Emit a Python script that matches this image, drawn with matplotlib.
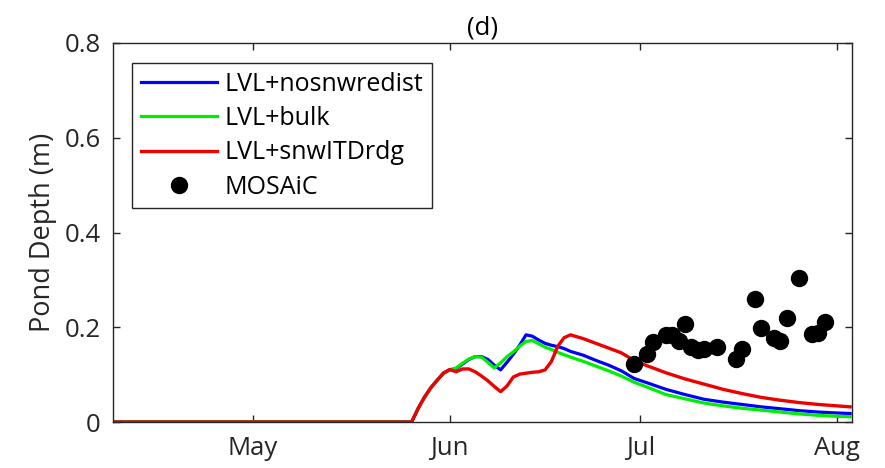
import matplotlib
matplotlib.use("Agg")
import matplotlib.pyplot as plt
from matplotlib.ticker import FuncFormatter

plt.rcParams["font.family"] = ["Open Sans", "DejaVu Sans"]

# day of year (2020) for the model curves
doy = [100, 147, 148, 149, 150, 151, 152, 153, 154, 155, 156, 157, 158, 159,
       160, 161, 162, 163, 164, 165, 166, 167, 168, 169, 170, 171, 172, 174,
       176, 178, 180, 182, 184, 187, 190, 193, 196, 199, 202, 205, 208, 211,
       214, 216]

nosnwredist = [0.0, 0.0, 0.028, 0.052, 0.072, 0.088, 0.103, 0.110, 0.113, 0.122,
               0.132, 0.138, 0.138, 0.132, 0.120, 0.110, 0.126, 0.143, 0.162,
               0.184, 0.181, 0.173, 0.166, 0.162, 0.159, 0.155, 0.149, 0.141,
               0.130, 0.120, 0.108, 0.092, 0.083, 0.069, 0.058, 0.048, 0.042,
               0.037, 0.032, 0.028, 0.024, 0.021, 0.019, 0.018]

bulk = [0.0, 0.0, 0.028, 0.052, 0.072, 0.088, 0.103, 0.110, 0.114, 0.124,
        0.133, 0.138, 0.137, 0.126, 0.114, 0.125, 0.138, 0.148, 0.160, 0.170,
        0.172, 0.165, 0.158, 0.153, 0.147, 0.142, 0.137, 0.128, 0.118, 0.108,
        0.097, 0.084, 0.074, 0.058, 0.049, 0.040, 0.034, 0.029, 0.025, 0.021,
        0.017, 0.014, 0.012, 0.011]

snwitdrdg = [0.0, 0.0, 0.028, 0.052, 0.072, 0.088, 0.103, 0.111, 0.106, 0.112,
             0.112, 0.106, 0.097, 0.087, 0.075, 0.064, 0.076, 0.095, 0.101,
             0.103, 0.105, 0.106, 0.110, 0.128, 0.160, 0.178, 0.184, 0.176,
             0.166, 0.156, 0.146, 0.130, 0.119, 0.104, 0.091, 0.080, 0.069,
             0.060, 0.052, 0.046, 0.041, 0.037, 0.034, 0.032]

# MOSAiC observations
obs_doy = [182, 184, 185, 187, 188, 189, 190, 191, 192, 193, 195, 198, 199,
           201, 202, 204, 205, 206, 208, 210, 211, 212]
obs_depth = [0.122, 0.143, 0.169, 0.184, 0.184, 0.172, 0.207, 0.158, 0.152,
             0.155, 0.158, 0.134, 0.155, 0.259, 0.199, 0.178, 0.171, 0.219,
             0.305, 0.186, 0.188, 0.212]

month_doy = [122, 153, 183, 214]
month_labels = ["May", "Jun", "Jul", "Aug"]

TXT = "#262626"

fig = plt.figure(figsize=(8.85, 4.68), dpi=100)
ax = fig.add_axes([113 / 885, 1 - 422 / 468, 739 / 885, 379 / 468])

ax.plot(doy, nosnwredist, color="#0000ff", lw=2.3, label="LVL+nosnwredist")
ax.plot(doy, bulk, color="#00ee00", lw=2.3, label="LVL+bulk")
ax.plot(doy, snwitdrdg, color="#ee0000", lw=2.4, label="LVL+snwITDrdg")
ax.plot(obs_doy, obs_depth, "o", color="black", ms=11.5, ls="none",
        label="MOSAiC")

ax.set_xlim(100, 216.3)
ax.set_ylim(0, 0.8)
ax.set_xticks(month_doy)
ax.set_xticklabels(month_labels)
ax.set_yticks([0, 0.2, 0.4, 0.6, 0.8])
ax.yaxis.set_major_formatter(FuncFormatter(lambda v, p: "0" if v == 0 else f"{v:.1f}"))

ax.tick_params(direction="in", top=True, right=True, length=5, width=1,
               colors=TXT, labelsize=18.5)
ax.tick_params(axis="y", pad=9)
ax.tick_params(axis="x", pad=10)
for s in ax.spines.values():
    s.set_color(TXT)
    s.set_linewidth(1)

ax.set_ylabel("Pond Depth (m)", fontsize=19.5, color=TXT, labelpad=5)
ax.set_title("(d)", fontsize=18.5, color="black", pad=6)

leg = ax.legend(loc="upper left", bbox_to_anchor=(132 / 885, 1 - 63 / 468),
                bbox_transform=fig.transFigure, borderaxespad=0,
                fancybox=False, framealpha=1, edgecolor=TXT, fontsize=18,
                handlelength=3.05, handletextpad=0.3, labelspacing=0.37,
                borderpad=0.35)
leg.get_frame().set_linewidth(1)
for t in leg.get_texts():
    t.set_color("black")

fig.savefig("out.png", dpi=100)
